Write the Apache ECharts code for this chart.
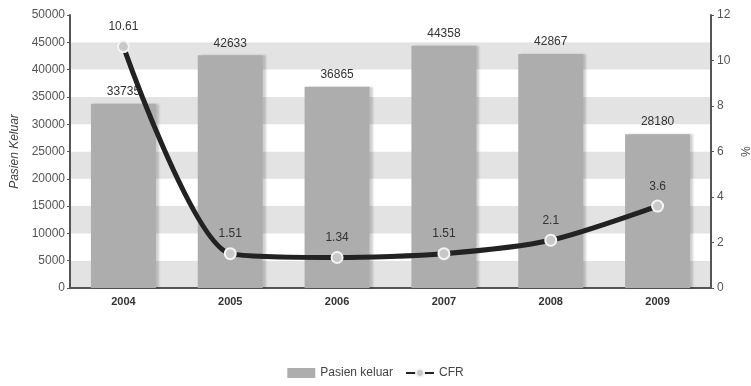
<!DOCTYPE html>
<html>
<head>
<meta charset="utf-8">
<script src="https://cdn.jsdelivr.net/npm/echarts@6/dist/echarts.min.js"></script>
<style>
  html, body { margin: 0; padding: 0; background: #fff; }
  #chart { width: 751px; height: 386px; }
</style>
</head>
<body>
<div id="chart"></div>
<script>
// Years on the category axis
const years = ['2004', '2005', '2006', '2007', '2008', '2009'];
// Discharged patients per year (left axis)
const pasienKeluar = [33735, 42633, 36865, 44358, 42867, 28180];
// Case fatality rate in percent (right axis)
const cfr = [10.61, 1.51, 1.34, 1.51, 2.1, 3.6];

const chart = echarts.init(document.getElementById('chart'));
const font = 'Liberation Sans, Arial, sans-serif';

chart.setOption({
  animation: false,
  textStyle: { fontFamily: font },
  grid: { left: 70, right: 40, top: 15, bottom: 98, containLabel: false, outerBoundsMode: 'none' },
  legend: {
    bottom: 2,
    left: 'center',
    itemWidth: 28,
    itemHeight: 10,
    itemGap: 12,
    textStyle: { color: '#444', fontSize: 12, fontFamily: font },
    data: [
      { name: 'Pasien keluar', icon: 'rect' },
      { name: 'CFR' }
    ]
  },
  xAxis: {
    type: 'category',
    data: years,
    axisLine: { lineStyle: { color: '#555', width: 2 } },
    axisTick: { show: false },
    axisLabel: { color: '#333', fontWeight: 'bold', fontSize: 11, margin: 8 }
  },
  yAxis: [
    {
      type: 'value',
      min: 0, max: 50000, interval: 5000,
      name: 'Pasien Keluar',
      nameLocation: 'middle',
      nameGap: 49,
      nameTextStyle: { color: '#444', fontStyle: 'italic', fontSize: 12 },
      axisLine: { show: true, lineStyle: { color: '#555', width: 2 } },
      axisTick: { show: true, length: 3, lineStyle: { color: '#555' } },
      axisLabel: { color: '#555', fontSize: 12, margin: 5, formatter: v => String(v) },
      splitLine: { show: false },
      splitArea: { show: true, areaStyle: { color: ['#e3e3e3', '#ffffff'] } }
    },
    {
      type: 'value',
      min: 0, max: 12, interval: 2,
      name: '%',
      nameLocation: 'middle',
      nameGap: 27,
      nameMoveOverlap: false,
      nameRotate: -90,
      nameTextStyle: { color: '#444', fontSize: 12 },
      axisLine: { show: true, lineStyle: { color: '#555', width: 2 } },
      axisTick: { show: true, length: 3, lineStyle: { color: '#555' } },
      axisLabel: { color: '#555', fontSize: 12, margin: 6 },
      splitLine: { show: false }
    }
  ],
  series: [
    {
      name: 'Pasien keluar',
      type: 'bar',
      data: pasienKeluar,
      barWidth: 65,
      itemStyle: {
        color: '#adadad',
        shadowColor: 'rgba(0,0,0,0.18)',
        shadowOffsetX: 3,
        shadowBlur: 2
      },
      label: { show: true, position: 'top', color: '#333', fontSize: 12, distance: 6 }
    },
    {
      name: 'CFR',
      type: 'line',
      yAxisIndex: 1,
      data: cfr,
      smooth: 0.25,
      symbol: 'circle',
      symbolSize: 11,
      lineStyle: { color: '#222', width: 5 },
      itemStyle: { color: '#c8c8c8', borderColor: '#f4f4f4', borderWidth: 2 },
      label: { show: true, position: 'top', color: '#333', fontSize: 12, distance: 7 },
      z: 5
    }
  ]
});
</script>
</body>
</html>
